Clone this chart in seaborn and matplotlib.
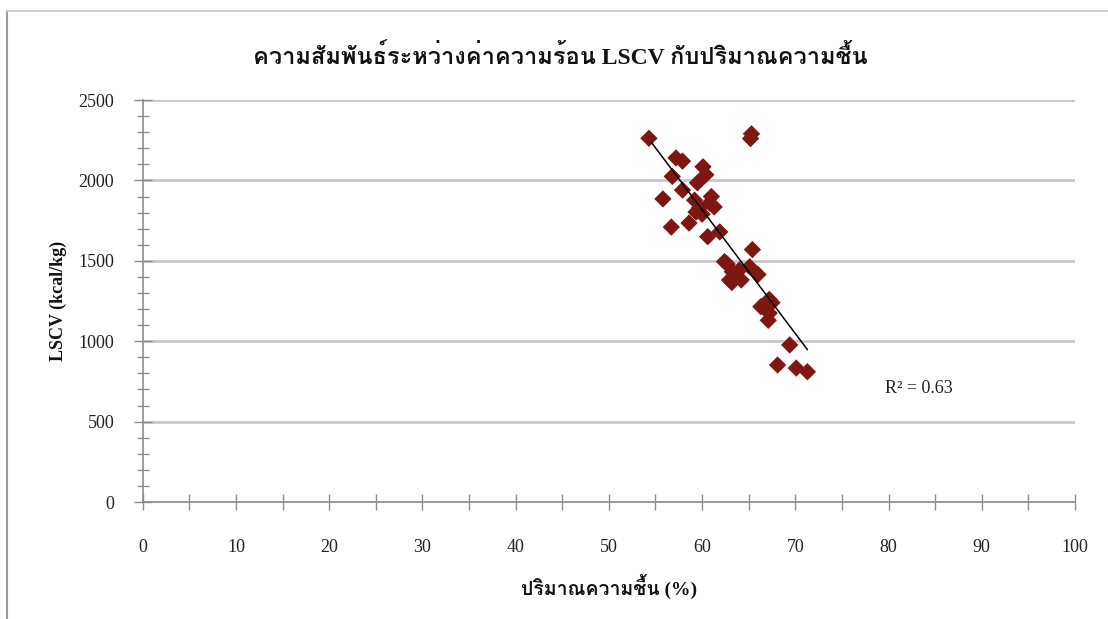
import numpy as np
import pandas as pd
import matplotlib
matplotlib.use("Agg")
import matplotlib.pyplot as plt
from matplotlib import font_manager
from matplotlib.ft2font import FT2Font
from matplotlib.ticker import MultipleLocator
import seaborn as sns

# Moisture content (%) and lower calorific value LSCV (kcal/kg) of each sample
moisture = [54.3, 65.3, 65.2, 57.2, 57.9, 56.8, 60.1, 60.4, 59.5, 57.9,
            61.0, 59.2, 61.3, 59.7, 55.8, 56.7, 58.6, 59.35, 60.0, 60.8,
            60.6, 61.9, 65.4, 62.4, 63.25, 62.95, 64.0, 65.1, 66.0, 63.2,
            64.2, 67.2, 66.3, 67.2, 67.1, 69.4, 68.1, 70.1, 71.3, 62.7,
            67.5]
lscv = [2262, 2290, 2260, 2140, 2120, 2025, 2085, 2035, 1985, 1940,
        1900, 1877, 1835, 1828, 1885, 1710, 1735, 1803, 1790, 1859,
        1650, 1680, 1570, 1495, 1432, 1381, 1443, 1463, 1415, 1365,
        1381, 1260, 1215, 1175, 1130, 977, 852, 833, 810, 1480,
        1240]

r2_label = "R² = 0.63"
title = "ความสัมพันธ์ระหว่างค่าความร้อน LSCV กับปริมาณความชื้น"
xlabel = "ปริมาณความชื้น (%)"
ylabel = "LSCV (kcal/kg)"

df = pd.DataFrame({"moisture": moisture, "lscv": lscv})

sns.set_theme(style="white")


def thai_family():
    """Return an installed family that can draw Thai script."""
    seen = set()
    for entry in font_manager.fontManager.ttflist:
        if entry.name in seen:
            continue
        seen.add(entry.name)
        try:
            if 0x0E01 in FT2Font(entry.fname).get_charmap():
                return entry.name
        except Exception:
            continue
    return "DejaVu Sans"


families = ["Liberation Serif", thai_family(), "DejaVu Sans"]
plt.rcParams["font.family"] = families
plt.rcParams["axes.unicode_minus"] = False

fig = plt.figure(figsize=(11.08, 6.19), dpi=100)
ax = fig.add_axes([0.1288, 0.189, 0.8414, 0.6494])

# chart-area frame
fig.add_artist(plt.Line2D([0.006, 0.006], [0.0, 0.983], transform=fig.transFigure,
                          color="#9a9a9a", lw=1.5))
fig.add_artist(plt.Line2D([0.006, 1.0], [0.983, 0.983], transform=fig.transFigure,
                          color="#d0d0d0", lw=1.5))

sns.scatterplot(data=df, x="moisture", y="lscv", marker="D", s=78,
                color="#7e1711", edgecolor="none", ax=ax, zorder=3)

# linear trend line across the observed moisture range
slope, intercept = np.polyfit(df["moisture"], df["lscv"], 1)
xs = np.array([df["moisture"].min() + 0.3, df["moisture"].max()])
ax.plot(xs, slope * xs + intercept, color="black", lw=1.1, zorder=4)

ax.text(79.6, 709, r2_label, fontsize=13, va="center", ha="left",
        color="#222222")

ax.set_xlim(0, 100)
ax.set_ylim(0, 2500)
ax.xaxis.set_major_locator(MultipleLocator(10))
ax.xaxis.set_minor_locator(MultipleLocator(5))
ax.yaxis.set_major_locator(MultipleLocator(500))
ax.yaxis.set_minor_locator(MultipleLocator(100))

ax.grid(axis="y", which="major", color="#c8c8c8", lw=2)
ax.grid(axis="x", visible=False)
ax.set_axisbelow(True)

for side in ["top", "right"]:
    ax.spines[side].set_visible(False)
for side in ["left", "bottom"]:
    ax.spines[side].set_color("#8c8c8c")
    ax.spines[side].set_linewidth(1.2)

ax.tick_params(axis="both", which="both", direction="inout", color="#8c8c8c",
               width=1.0, labelsize=13, labelcolor="#222222",
               bottom=True, left=True, top=False, right=False)
ax.tick_params(axis="y", which="major", length=13, pad=14)
ax.tick_params(axis="y", which="minor", length=8)
ax.tick_params(axis="x", which="major", length=11, pad=21)
ax.tick_params(axis="x", which="minor", length=11)

ax.set_xlabel(xlabel, fontsize=14, fontweight="bold", labelpad=13, color="#111111")
ax.set_ylabel(ylabel, fontsize=13, fontweight="bold", labelpad=8, color="#111111")
fig.text(0.506, 0.908, title, fontsize=17, fontweight="bold", ha="center",
         va="center", color="#111111")

fig.savefig("out.png", dpi=100, facecolor="white")
